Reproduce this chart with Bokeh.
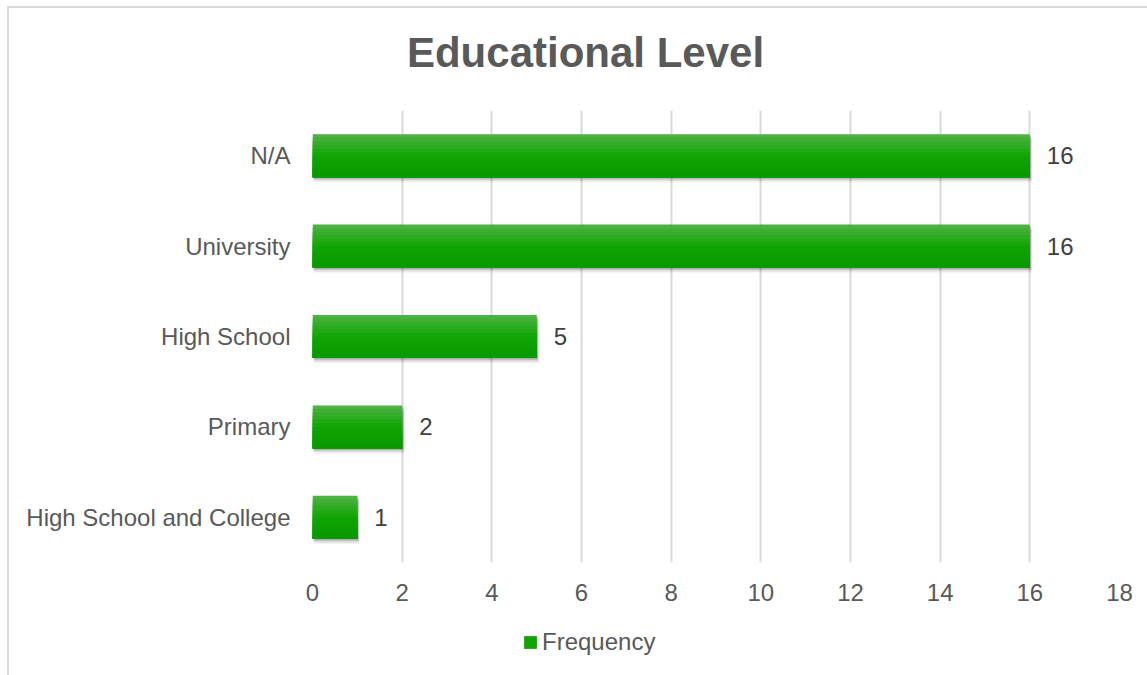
from bokeh.plotting import figure
from bokeh.layouts import column
from bokeh.models import (Range1d, FactorRange, FixedTicker, Legend, LegendItem,
                          ColumnDataSource, Label)
from bokeh.transform import dodge
from bokeh.core.properties import value
from bokeh.embed import file_html
from bokeh.resources import INLINE

categories = ["High School and College", "Primary", "High School", "University", "N/A"]
frequency = [1, 2, 5, 16, 16]
x_ticks = [0, 2, 4, 6, 8, 10, 12, 14, 16, 18]
title_text = "Educational Level"
series_name = "Frequency"

FONT = "Liberation Sans"
GREY = "#595959"

src = ColumnDataSource(dict(cat=categories, val=frequency, lab=[str(v) for v in frequency]))

ML, MT = 9, 8
W = 1147 - ML
FL, FR = 312 - ML, 28      # frame left / right borders
FT = 110                   # frame top (window px)
PB = 610                   # bottom of main figure (window px)


def strip(height):
    f = figure(width=W, height=height, output_backend="svg", toolbar_location=None,
               x_range=Range1d(0, W - FL - FR), y_range=Range1d(0, height),
               min_border_left=FL, min_border_right=FR, min_border_top=0, min_border_bottom=0)
    f.axis.visible = False
    f.grid.visible = False
    f.outline_line_color = None
    f.border_fill_color = "white"
    f.background_fill_color = "white"
    return f


# title strip
TH = FT - MT
tf = strip(TH)
tf.add_layout(Label(x=273, y=58, text=title_text, text_align="center",
                    text_baseline="alphabetic", text_font=FONT, text_font_size="42px",
                    text_font_style="bold", text_color=GREY))

# main chart
p = figure(width=W, height=PB - FT, output_backend="svg", toolbar_location=None,
           x_range=Range1d(0, 18), y_range=FactorRange(*categories, range_padding=0),
           min_border_left=FL, min_border_right=FR, min_border_top=0,
           min_border_bottom=PB - 562)
p.outline_line_color = None
p.background_fill_color = "white"
p.border_fill_color = "white"

p.ygrid.grid_line_color = None
p.xgrid.grid_line_color = "#d9d9d9"
p.xgrid.grid_line_width = 2
p.xaxis.ticker = FixedTicker(ticks=x_ticks)

for ax in (p.xaxis[0], p.yaxis[0]):
    ax.axis_line_color = None
    ax.major_tick_line_color = None
    ax.minor_tick_line_color = None
    ax.major_label_text_font = FONT
    ax.major_label_text_font_size = "24px"
    ax.major_label_text_color = GREY
p.xaxis.major_label_standoff = 15
p.yaxis.major_label_standoff = 16

H = 0.476
# soft shadow (layers)
for dy, dx, a in [(-0.058, 0.05, 0.05), (-0.042, 0.04, 0.08), (-0.026, 0.03, 0.12), (-0.014, 0.02, 0.12)]:
    p.hbar(y=dodge("cat", dy, range=p.y_range), left=0.03, right=dodge("val", dx), height=H,
           source=src, fill_color="#000000", fill_alpha=a, line_color=None)

# gradient bars (stacked slices, each extends to the bar bottom)
n = 12
top = (76, 178, 66)
mid = (16, 166, 2)
bot = (8, 154, 0)
for i in range(n):
    t = i / (n - 1)
    if t < 0.5:
        u = t / 0.5
        c = tuple(int(top[k] + (mid[k] - top[k]) * u) for k in range(3))
    else:
        u = (t - 0.5) / 0.5
        c = tuple(int(mid[k] + (bot[k] - mid[k]) * u) for k in range(3))
    col = "#%02x%02x%02x" % c
    h = H - i * H / n
    off = -(i * H / n) / 2
    p.hbar(y=dodge("cat", off, range=p.y_range), left=0, right="val", height=h,
           source=src, fill_color=col, line_color=None)

# value labels
p.text(x="val", y="cat", text="lab", source=src, x_offset=17, text_baseline="middle",
       text_align="left", text_font=value(FONT), text_font_size="24px", text_color="#404040")

# legend strip
LH = 675 - PB
lf = strip(LH)
key = lf.hbar(y=[LH / 2], left=[0], right=[1], height=1,
              fill_color="#12a308", line_color=None, visible=False)
legend = Legend(items=[LegendItem(label=series_name, renderers=[key])],
                location=(210, 19), orientation="horizontal",
                label_text_font=FONT, label_text_font_size="24px", label_text_color=GREY,
                glyph_width=16, glyph_height=16, border_line_color=None,
                background_fill_alpha=0, padding=0, margin=0, label_standoff=4,
                click_policy="none")
lf.add_layout(legend, "center")

layout = column(tf, p, lf, spacing=0)
layout.margin = (MT, 0, 0, ML)
layout.styles = {"outline": "2px solid #d9d9d9"}

open("out.html", "w").write(file_html(layout, INLINE))
